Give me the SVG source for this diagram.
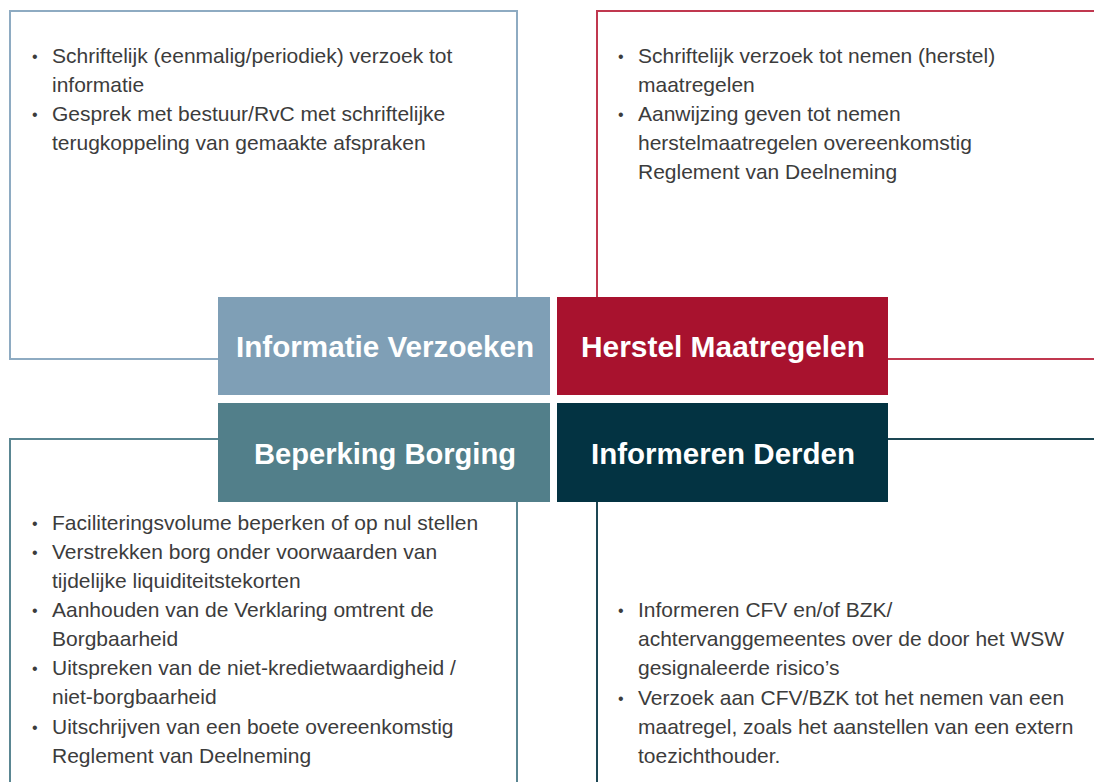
<svg xmlns="http://www.w3.org/2000/svg" width="1094" height="782" viewBox="0 0 1094 782">
  <style>
    .frame { fill: none; stroke-width: 2; }
    .f-info { stroke: #8eabc2; }
    .f-herstel { stroke: #c0384f; }
    .f-borg { stroke: #5a8692; }
    .f-derden { stroke: #1d4754; }
    .title { font-family: "Liberation Sans", Arial, sans-serif; font-weight: bold; font-size: 29px; fill: #ffffff; text-anchor: middle; }
    .body { font-family: "Liberation Sans", Arial, sans-serif; font-size: 21px; fill: #3c3c3c; }
    .dot { font-size: 16px; }
  </style>

  <rect width="1094" height="782" fill="#ffffff"/>

  <!-- frame lines running out from each heading block -->
  <g id="connectors">
    <path class="frame f-info" d="M218,359 H10 V11 H517 V297"/>
    <path class="frame f-herstel" d="M597,297 V11 H1096 M888,359 H1096"/>
    <path class="frame f-borg" d="M218,439 H10 V784 M517,502 V784"/>
    <path class="frame f-derden" d="M597,502 V784 M888,439 H1096"/>
  </g>

  <!-- Informatie Verzoeken -->
  <g id="node-informatie-verzoeken">
    <rect x="218" y="297" width="332" height="98" fill="#7f9fb6"/>
    <text class="title" x="385" y="357" textLength="298" lengthAdjust="spacingAndGlyphs">Informatie Verzoeken</text>
    <g class="body">
      <text class="dot" x="32" y="62">•</text>
      <text x="52" y="63">Schriftelijk (eenmalig/periodiek) verzoek tot</text>
      <text x="52" y="92">informatie</text>
      <text class="dot" x="32" y="120">•</text>
      <text x="52" y="121">Gesprek met bestuur/RvC met schriftelijke</text>
      <text x="52" y="150">terugkoppeling van gemaakte afspraken</text>
    </g>
  </g>

  <!-- Herstel Maatregelen -->
  <g id="node-herstel-maatregelen">
    <rect x="557" y="297" width="331" height="98" fill="#a8122e"/>
    <text class="title" x="723" y="357" textLength="284" lengthAdjust="spacingAndGlyphs">Herstel Maatregelen</text>
    <g class="body">
      <text class="dot" x="618" y="62">•</text>
      <text x="638" y="63">Schriftelijk verzoek tot nemen (herstel)</text>
      <text x="638" y="92">maatregelen</text>
      <text class="dot" x="618" y="120">•</text>
      <text x="638" y="121">Aanwijzing geven tot nemen</text>
      <text x="638" y="150">herstelmaatregelen overeenkomstig</text>
      <text x="638" y="179">Reglement van Deelneming</text>
    </g>
  </g>

  <!-- Beperking Borging -->
  <g id="node-beperking-borging">
    <rect x="218" y="403" width="332" height="99" fill="#527f8a"/>
    <text class="title" x="385" y="464" textLength="262" lengthAdjust="spacingAndGlyphs">Beperking Borging</text>
    <g class="body">
      <text class="dot" x="32" y="529">•</text>
      <text x="52" y="530">Faciliteringsvolume beperken of op nul stellen</text>
      <text class="dot" x="32" y="558">•</text>
      <text x="52" y="559">Verstrekken borg onder voorwaarden van</text>
      <text x="52" y="588">tijdelijke liquiditeitstekorten</text>
      <text class="dot" x="32" y="616">•</text>
      <text x="52" y="617">Aanhouden van de Verklaring omtrent de</text>
      <text x="52" y="646">Borgbaarheid</text>
      <text class="dot" x="32" y="674">•</text>
      <text x="52" y="675">Uitspreken van de niet-kredietwaardigheid /</text>
      <text x="52" y="704">niet-borgbaarheid</text>
      <text class="dot" x="32" y="733">•</text>
      <text x="52" y="734">Uitschrijven van een boete overeenkomstig</text>
      <text x="52" y="763">Reglement van Deelneming</text>
    </g>
  </g>

  <!-- Informeren Derden -->
  <g id="node-informeren-derden">
    <rect x="557" y="403" width="331" height="99" fill="#033342"/>
    <text class="title" x="723" y="464" textLength="264" lengthAdjust="spacingAndGlyphs">Informeren Derden</text>
    <g class="body">
      <text class="dot" x="618" y="616">•</text>
      <text x="638" y="617">Informeren CFV en/of BZK/</text>
      <text x="638" y="646">achtervanggemeentes over de door het WSW</text>
      <text x="638" y="675">gesignaleerde risico’s</text>
      <text class="dot" x="618" y="704">•</text>
      <text x="638" y="705">Verzoek aan CFV/BZK tot het nemen van een</text>
      <text x="638" y="734">maatregel, zoals het aanstellen van een extern</text>
      <text x="638" y="763">toezichthouder.</text>
    </g>
  </g>
</svg>
